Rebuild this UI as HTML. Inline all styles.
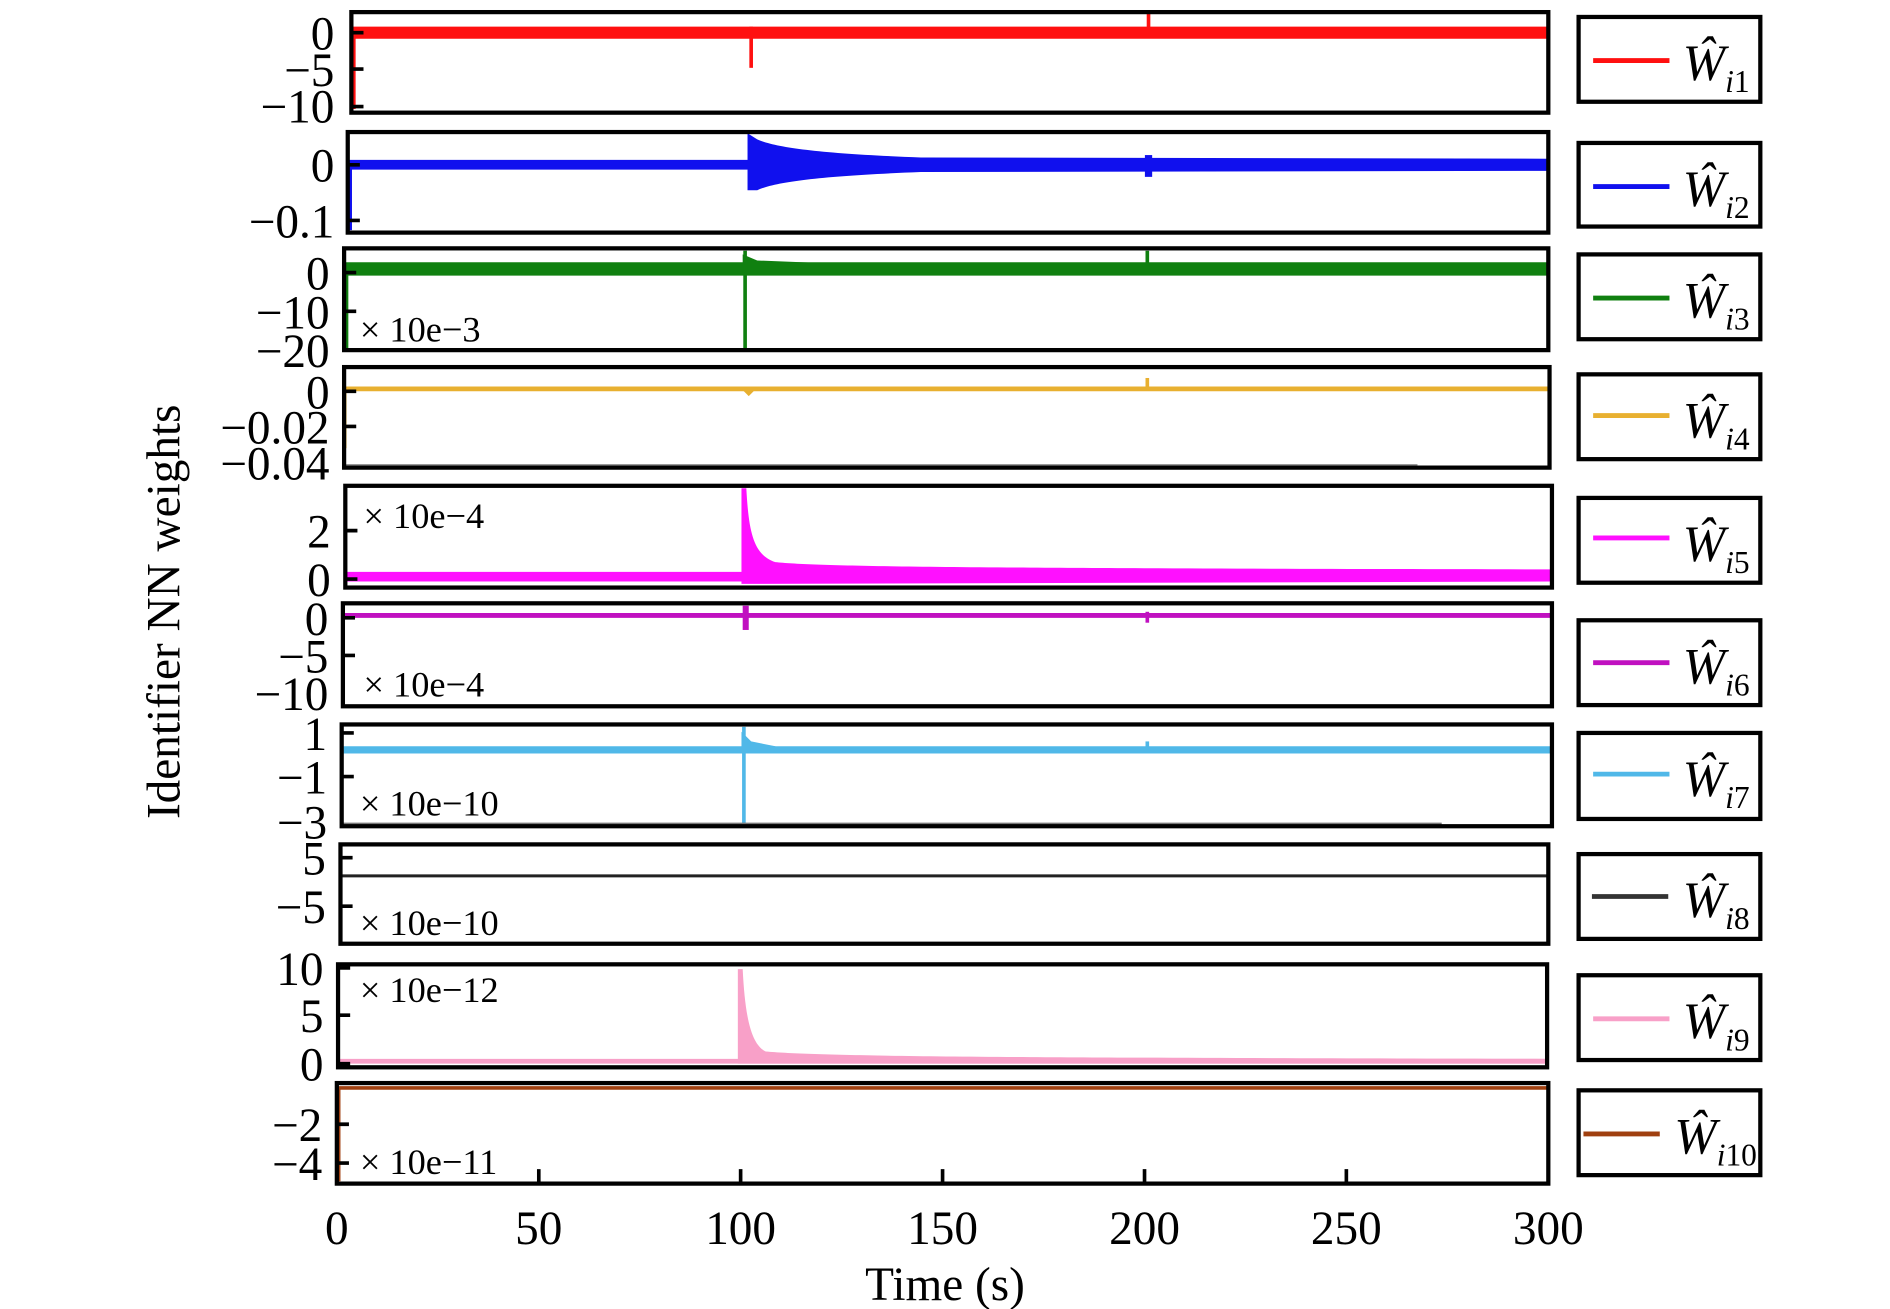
<!DOCTYPE html>
<html><head><meta charset="utf-8"><style>
html,body{margin:0;padding:0;background:#fff;}
svg{display:block;}
text{font-family:"Liberation Serif",serif;}
</style></head><body>
<svg width="1890" height="1309" viewBox="0 0 1560 1080.5" xmlns="http://www.w3.org/2000/svg">
<g font-size="39" text-anchor="end" fill="#000">
<!-- Panel 1 -->
<line x1="290" y1="27" x2="1278" y2="27" stroke="#ff1010" stroke-width="10"/>
<line x1="620" y1="22" x2="620" y2="56" stroke="#ff1010" stroke-width="3"/>
<line x1="948" y1="10" x2="948" y2="30" stroke="#ff1010" stroke-width="3"/>
<line x1="292" y1="27" x2="292" y2="90" stroke="#ff1010" stroke-width="3"/>
<rect x="290" y="10" width="988" height="83" fill="none" stroke="#000" stroke-width="3.5"/>
<path d="M290 27h10M290 57h10M290 88h10" stroke="#000" stroke-width="3"/>
<text x="276" y="41">0</text><text x="276" y="71">−5</text><text x="276" y="101">−10</text>

<!-- Panel 2 -->
<line x1="287" y1="136" x2="1278" y2="136" stroke="#1010ee" stroke-width="8"/>
<path d="M617 110 L617 157 L625 157 C640 150 680 145 760 142 L1278 141 L1278 131 L760 130 C680 127 640 122 625 115 Z" fill="#1010ee"/>
<path d="M945 128 L951 128 L951 146 L945 146Z" fill="#1010ee"/>
<line x1="289" y1="136" x2="289" y2="190" stroke="#1010ee" stroke-width="3"/>
<rect x="287" y="109" width="991" height="83" fill="none" stroke="#000" stroke-width="3.5"/>
<path d="M287 136h10M287 182h10" stroke="#000" stroke-width="3"/>
<text x="276" y="150">0</text><text x="276" y="196">−0.1</text>

<!-- Panel 3 -->
<line x1="284" y1="222" x2="1278" y2="222" stroke="#108010" stroke-width="11"/>
<line x1="615" y1="207" x2="615" y2="288" stroke="#108010" stroke-width="3"/>
<path d="M613 210 L625 215 L700 218 L700 222 L613 222Z" fill="#108010"/>
<line x1="947" y1="207" x2="947" y2="222" stroke="#108010" stroke-width="3"/>
<line x1="286" y1="222" x2="286" y2="288" stroke="#108010" stroke-width="3"/>
<rect x="284" y="205" width="994" height="84" fill="none" stroke="#000" stroke-width="3.5"/>
<path d="M284 225h10M284 257h10" stroke="#000" stroke-width="3"/>
<text x="272" y="239">0</text><text x="272" y="271">−10</text><text x="272" y="303">−20</text>
<text x="297" y="282" text-anchor="start" font-size="30">× 10e−3</text>

<!-- Panel 4 -->
<line x1="284" y1="321" x2="1279" y2="321" stroke="#e8b030" stroke-width="4"/>
<path d="M612 321 L618 327 L624 321Z" fill="#e8b030"/>
<line x1="947" y1="312" x2="947" y2="322" stroke="#e8b030" stroke-width="3"/>
<line x1="285" y1="321" x2="285" y2="370" stroke="#e8b030" stroke-width="2"/>
<line x1="284" y1="384" x2="1170" y2="384" stroke="#999" stroke-width="2"/>
<rect x="284" y="303" width="995" height="83" fill="none" stroke="#000" stroke-width="3.5"/>
<path d="M284 323h10M284 352h10" stroke="#000" stroke-width="3"/>
<text x="272" y="337">0</text><text x="272" y="366">−0.02</text><text x="272" y="396">−0.04</text>

<!-- Panel 5 -->
<line x1="285" y1="476" x2="1281" y2="476" stroke="#ff10ff" stroke-width="8"/>
<path d="M612 403 L616 403 C618 440 622 458 640 464 C680 468 800 469 1281 470 L1281 480 L612 482Z" fill="#ff10ff"/>
<rect x="285" y="401" width="996" height="84" fill="none" stroke="#000" stroke-width="3.5"/>
<path d="M285 438h10M285 478h10" stroke="#000" stroke-width="3"/>
<text x="273" y="452">2</text><text x="273" y="492">0</text>
<text x="300" y="436" text-anchor="start" font-size="30">× 10e−4</text>

<!-- Panel 6 -->
<line x1="283" y1="508" x2="1281" y2="508" stroke="#c010c0" stroke-width="4"/>
<path d="M613 500 L618 500 L618 520 L613 520Z" fill="#c010c0"/>
<line x1="947" y1="505" x2="947" y2="514" stroke="#c010c0" stroke-width="3"/>
<rect x="283" y="498" width="998" height="85" fill="none" stroke="#000" stroke-width="3.5"/>
<path d="M283 510h10M283 541h10" stroke="#000" stroke-width="3"/>
<text x="271" y="524">0</text><text x="271" y="555">−5</text><text x="271" y="586">−10</text>
<text x="300" y="575" text-anchor="start" font-size="30">× 10e−4</text>

<!-- Panel 7 -->
<line x1="282" y1="619" x2="1281" y2="619" stroke="#50b8e8" stroke-width="6"/>
<line x1="614" y1="600" x2="614" y2="680" stroke="#50b8e8" stroke-width="3"/>
<path d="M612 604 L620 612 L640 616 L640 619 L612 619Z" fill="#50b8e8"/>
<line x1="947" y1="612" x2="947" y2="620" stroke="#50b8e8" stroke-width="3"/>
<line x1="282" y1="680" x2="1190" y2="680" stroke="#777" stroke-width="2"/>
<rect x="282" y="598" width="999" height="84" fill="none" stroke="#000" stroke-width="3.5"/>
<path d="M282 605h10M282 641h10" stroke="#000" stroke-width="3"/>
<text x="270" y="619">1</text><text x="270" y="655">−1</text><text x="270" y="692">−3</text>
<text x="297" y="673" text-anchor="start" font-size="30">× 10e−10</text>

<!-- Panel 8 -->
<line x1="281" y1="723" x2="1278" y2="723" stroke="#222" stroke-width="2.5"/>
<rect x="281" y="697" width="997" height="82" fill="none" stroke="#000" stroke-width="3.5"/>
<path d="M281 708h10M281 748h10" stroke="#000" stroke-width="3"/>
<text x="269" y="722">5</text><text x="269" y="762">−5</text>
<text x="297" y="772" text-anchor="start" font-size="30">× 10e−10</text>

<!-- Panel 9 -->
<line x1="279" y1="876" x2="1277" y2="876" stroke="#f8a0c8" stroke-width="4"/>
<path d="M609 800 L613 800 C615 840 620 862 632 868 C680 872 800 873 1277 874 L1277 878 L609 878Z" fill="#f8a0c8"/>
<rect x="279" y="796" width="998" height="85" fill="none" stroke="#000" stroke-width="3.5"/>
<path d="M279 799h10M279 838h10M279 878h10" stroke="#000" stroke-width="3"/>
<text x="267" y="813">10</text><text x="267" y="852">5</text><text x="267" y="892">0</text>
<text x="297" y="827" text-anchor="start" font-size="30">× 10e−12</text>

<!-- Panel 10 -->
<line x1="278" y1="898" x2="1278" y2="898" stroke="#a04010" stroke-width="3"/>
<line x1="280" y1="898" x2="280" y2="975" stroke="#a04010" stroke-width="2"/>
<rect x="278" y="894" width="1000" height="83" fill="none" stroke="#000" stroke-width="3.5"/>
<path d="M278 928h10M278 960h10" stroke="#000" stroke-width="3"/>
<path d="M444.7 977v-12M611.3 977v-12M778 977v-12M944.7 977v-12M1111.3 977v-12" stroke="#000" stroke-width="3"/>
<text x="266" y="942">−2</text><text x="266" y="974">−4</text>
<text x="297" y="969" text-anchor="start" font-size="30">× 10e−11</text>
</g>

<!-- X axis labels -->
<g font-size="39" text-anchor="middle">
<text x="278" y="1027">0</text><text x="444.7" y="1027">50</text><text x="611.3" y="1027">100</text>
<text x="778" y="1027">150</text><text x="944.7" y="1027">200</text><text x="1111.3" y="1027">250</text><text x="1278" y="1027">300</text>
<text x="780" y="1073">Time (s)</text>
<text transform="translate(148,505) rotate(-90)">Identifier NN weights</text>
</g>

<!-- Legends -->
<g font-size="42" font-style="italic">
<g transform="translate(0,14)"><rect x="1303" y="0" width="150" height="70" fill="none" stroke="#000" stroke-width="3.5"/><line x1="1315" y1="36" x2="1378" y2="36" stroke="#ff1010" stroke-width="4"/><text x="1389" y="52">Ŵ<tspan font-size="26" dy="10">i</tspan><tspan font-size="26" font-style="normal">1</tspan></text></g>
<g transform="translate(0,118)"><rect x="1303" y="0" width="150" height="69" fill="none" stroke="#000" stroke-width="3.5"/><line x1="1315" y1="36" x2="1378" y2="36" stroke="#1010ee" stroke-width="4"/><text x="1389" y="52">Ŵ<tspan font-size="26" dy="10">i</tspan><tspan font-size="26" font-style="normal">2</tspan></text></g>
<g transform="translate(0,210)"><rect x="1303" y="0" width="150" height="70" fill="none" stroke="#000" stroke-width="3.5"/><line x1="1315" y1="36" x2="1378" y2="36" stroke="#108010" stroke-width="4"/><text x="1389" y="52">Ŵ<tspan font-size="26" dy="10">i</tspan><tspan font-size="26" font-style="normal">3</tspan></text></g>
<g transform="translate(0,309)"><rect x="1303" y="0" width="150" height="70" fill="none" stroke="#000" stroke-width="3.5"/><line x1="1315" y1="34" x2="1378" y2="34" stroke="#e8b030" stroke-width="4"/><text x="1389" y="52">Ŵ<tspan font-size="26" dy="10">i</tspan><tspan font-size="26" font-style="normal">4</tspan></text></g>
<g transform="translate(0,411)"><rect x="1303" y="0" width="150" height="70" fill="none" stroke="#000" stroke-width="3.5"/><line x1="1315" y1="33" x2="1378" y2="33" stroke="#ff10ff" stroke-width="4"/><text x="1389" y="52">Ŵ<tspan font-size="26" dy="10">i</tspan><tspan font-size="26" font-style="normal">5</tspan></text></g>
<g transform="translate(0,512)"><rect x="1303" y="0" width="150" height="70" fill="none" stroke="#000" stroke-width="3.5"/><line x1="1315" y1="35" x2="1378" y2="35" stroke="#c010c0" stroke-width="4"/><text x="1389" y="52">Ŵ<tspan font-size="26" dy="10">i</tspan><tspan font-size="26" font-style="normal">6</tspan></text></g>
<g transform="translate(0,605)"><rect x="1303" y="0" width="150" height="71" fill="none" stroke="#000" stroke-width="3.5"/><line x1="1315" y1="34" x2="1378" y2="34" stroke="#50b8e8" stroke-width="4"/><text x="1389" y="52">Ŵ<tspan font-size="26" dy="10">i</tspan><tspan font-size="26" font-style="normal">7</tspan></text></g>
<g transform="translate(0,705)"><rect x="1303" y="0" width="150" height="70" fill="none" stroke="#000" stroke-width="3.5"/><line x1="1314" y1="35" x2="1377" y2="35" stroke="#333" stroke-width="4"/><text x="1389" y="52">Ŵ<tspan font-size="26" dy="10">i</tspan><tspan font-size="26" font-style="normal">8</tspan></text></g>
<g transform="translate(0,805)"><rect x="1303" y="0" width="150" height="70" fill="none" stroke="#000" stroke-width="3.5"/><line x1="1315" y1="36" x2="1378" y2="36" stroke="#f8a0c8" stroke-width="4"/><text x="1389" y="52">Ŵ<tspan font-size="26" dy="10">i</tspan><tspan font-size="26" font-style="normal">9</tspan></text></g>
<g transform="translate(0,900)"><rect x="1303" y="0" width="150" height="70" fill="none" stroke="#000" stroke-width="3.5"/><line x1="1307" y1="36" x2="1370" y2="36" stroke="#a04010" stroke-width="4"/><text x="1382" y="52">Ŵ<tspan font-size="26" dy="10">i</tspan><tspan font-size="26" font-style="normal">10</tspan></text></g>
</g>
</svg>
</body></html>
